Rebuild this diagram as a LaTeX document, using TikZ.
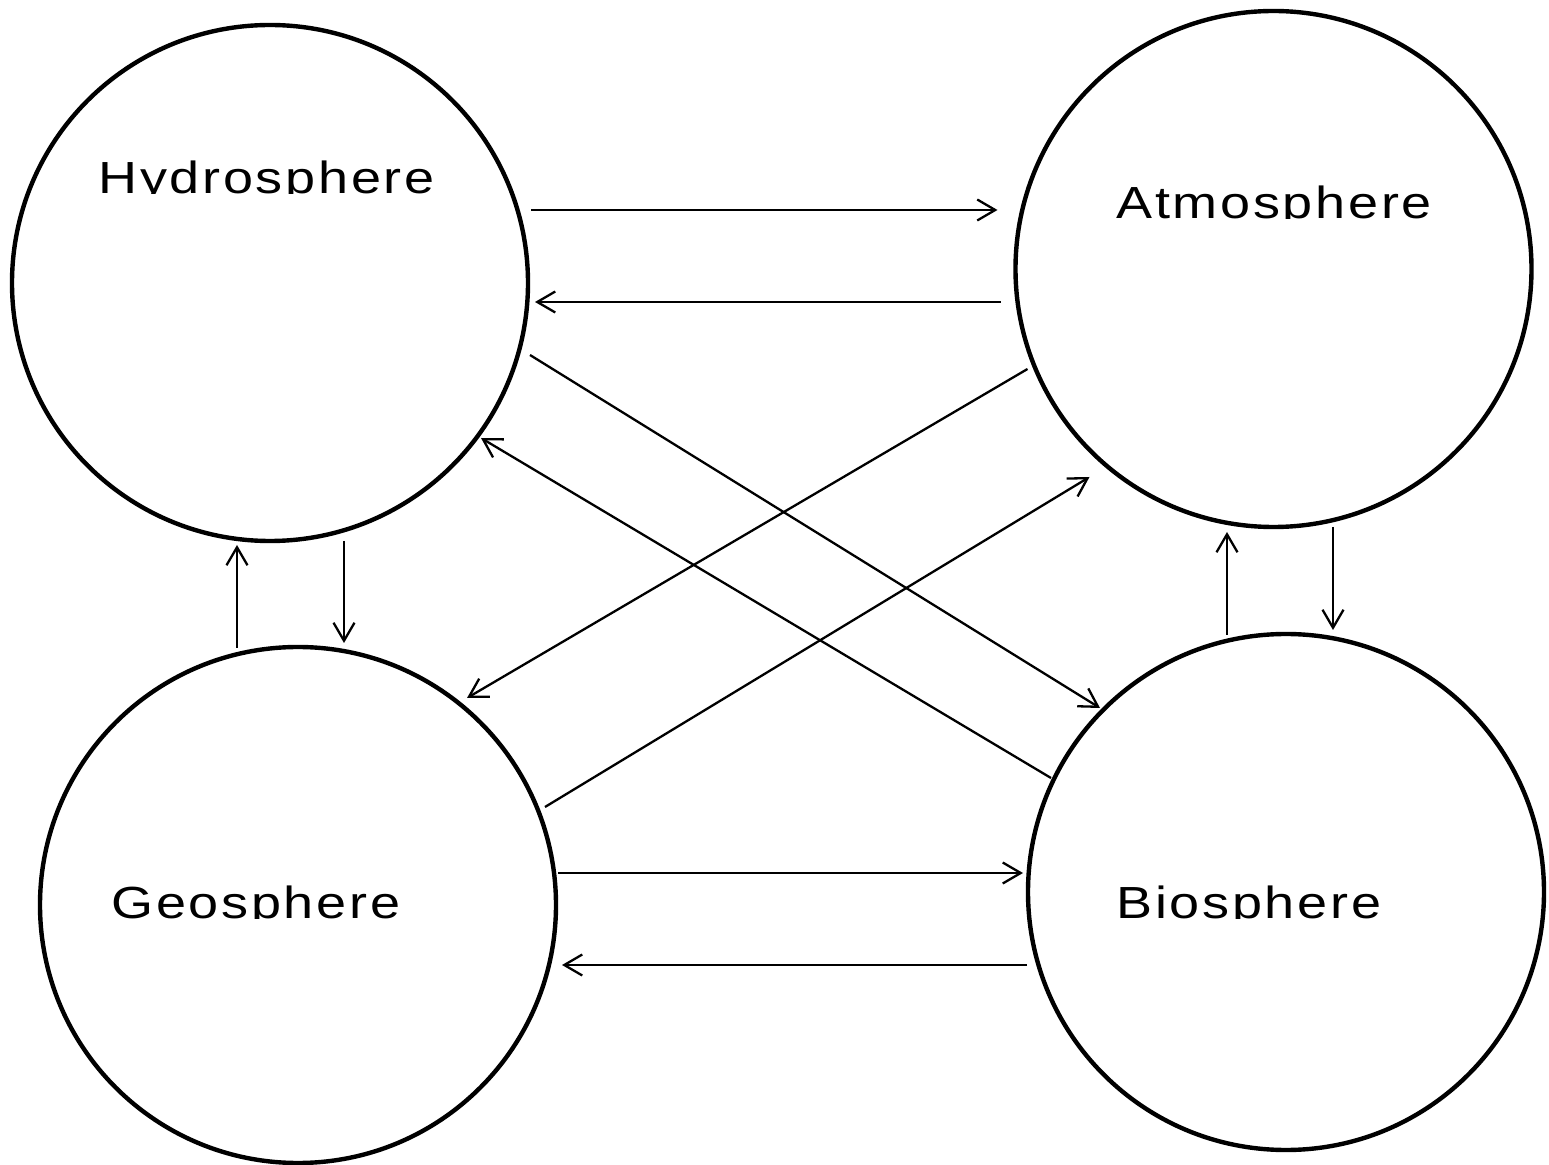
\documentclass[tikz,border=0pt]{standalone}
\usepackage{fontspec}
\setmainfont[LetterSpace=6,FakeStretch=1.2]{Liberation Sans}
\usetikzlibrary{arrows.meta,calc}

\tikzset{
  sphere/.style={circle, draw, line width=2.2pt, minimum size=258pt, inner sep=0pt},
  link/.style={line width=1.15pt, -{Straight Barb[length=9pt,width=10.5pt,line width=1.15pt]}},
  title/.style={anchor=base west, inner sep=0pt, font=\fontsize{22.5pt}{27pt}\selectfont}
}

% Labels are cut off at their baseline, so descenders do not show
\newcommand{\spherelabel}[3]{%
  \begin{scope}
    \clip (#1-5,#2) rectangle (#1+380,#2-60);
    \node[title] (#3) at (#1,#2) {\csname lbl#3\endcsname};
  \end{scope}}
\newcommand{\lblhydl}{Hydrosphere}
\newcommand{\lblatml}{Atmosphere}
\newcommand{\lblgeol}{Geosphere}
\newcommand{\lblbiol}{Biosphere}

\begin{document}
\begin{tikzpicture}[x=0.5pt,y=-0.5pt]
  \useasboundingbox (0,0) rectangle (1549,1165);

  % the four spheres
  \node[sphere] (hyd) at (270,283) {};
  \node[sphere] (atm) at (1273.5,269) {};
  \node[sphere] (geo) at (298,905) {};
  \node[sphere] (bio) at (1286,892) {};

  % names
  \spherelabel{98}{194}{hydl}
  \spherelabel{1116}{219}{atml}
  \spherelabel{111}{919}{geol}
  \spherelabel{1116}{919}{biol}

  % exchanges between spheres
  \draw[link] ($(hyd)+(261,-73)$) -- ($(atm)+(-276,-59)$);
  \draw[link] ($(atm)+(-273,33)$) -- ($(hyd)+(265,19)$);
  \draw[link] ($(hyd)+(260,72)$) -- ($(bio)+(-186,-184)$);
  \draw[link] ($(bio)+(-235,-114)$) -- ($(hyd)+(211,155)$);
  \draw[link] ($(atm)+(-246,100)$) -- ($(geo)+(169,-207)$);
  \draw[link] ($(geo)+(247,-98)$) -- ($(atm)+(-184,208)$);
  \draw[link] ($(geo)+(260,-32)$) -- ($(bio)+(-263,-19)$);
  \draw[link] ($(bio)+(-259,73)$) -- ($(geo)+(264,60)$);
  \draw[link] ($(geo)+(-61,-257)$) -- ($(hyd)+(-33,262)$);
  \draw[link] ($(hyd)+(74,258)$) -- ($(geo)+(46,-262)$);
  \draw[link] ($(bio)+(-59,-257)$) -- ($(atm)+(-46.5,263)$);
  \draw[link] ($(atm)+(59.5,258)$) -- ($(bio)+(47,-262)$);
\end{tikzpicture}
\end{document}
